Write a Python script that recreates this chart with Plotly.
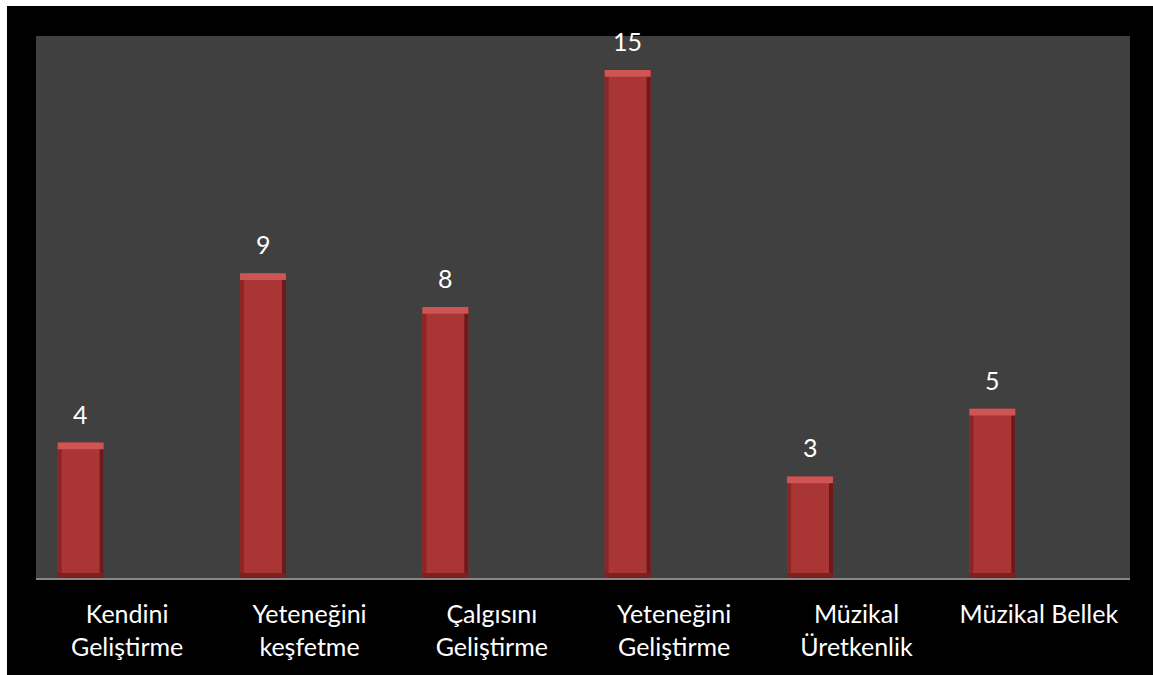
import plotly.graph_objects as go

categories = ["Kendini<br>Geliştirme", "Yeteneğini<br>keşfetme", "Çalgısını<br>Geliştirme",
              "Yeteneğini<br>Geliştirme", "Müzikal<br>Üretkenlik", "Müzikal Bellek"]
values = [4, 9, 8, 15, 3, 5]

BAR_OFFSET = -0.381
BAR_WIDTH = 0.252
EDGE = 0.022
CAP = 0.2

FONT = "Lato"

fig = go.Figure()

# bar body
fig.add_trace(go.Bar(x=categories, y=values, offset=BAR_OFFSET, width=BAR_WIDTH,
                     marker=dict(color="#aa3535", line=dict(width=0)), hoverinfo="skip"))
# left bevel
fig.add_trace(go.Bar(x=categories, y=values, offset=BAR_OFFSET, width=EDGE,
                     marker=dict(color="#8c2626", line=dict(width=0)), hoverinfo="skip"))
# right bevel
fig.add_trace(go.Bar(x=categories, y=values, offset=BAR_OFFSET + BAR_WIDTH - EDGE, width=EDGE,
                     marker=dict(color="#6e1a1a", line=dict(width=0)), hoverinfo="skip"))
# bottom bevel
fig.add_trace(go.Bar(x=categories, y=[0.15] * len(values), base=[0] * len(values),
                     offset=BAR_OFFSET, width=BAR_WIDTH,
                     marker=dict(color="#7e2020", line=dict(width=0)), hoverinfo="skip"))
# top bevel
fig.add_trace(go.Bar(x=categories, y=[CAP] * len(values), base=[v - CAP for v in values],
                     offset=BAR_OFFSET, width=BAR_WIDTH,
                     marker=dict(color="#cf5555", line=dict(width=0)), hoverinfo="skip"))

annotations = []
for c, v in zip(categories, values):
    annotations.append(dict(x=c, y=v, xref="x", yref="y", text=str(v), showarrow=False,
                            xanchor="center", yanchor="bottom", xshift=-46.5, yshift=12,
                            font=dict(family=FONT, size=25, color="#ffffff")))

shapes = [
    dict(type="rect", xref="paper", yref="paper", x0=-0.2, x1=1.2,
         ysizemode="pixel", yanchor=1, y0=30, y1=60,
         fillcolor="#ffffff", line=dict(width=0), layer="above"),
    dict(type="rect", xref="paper", yref="paper", y0=-0.5, y1=1.5,
         xsizemode="pixel", xanchor=0, x0=-60, x1=-29,
         fillcolor="#ffffff", line=dict(width=0), layer="above"),
]

fig.update_layout(
    width=1153, height=675,
    barmode="overlay",
    showlegend=False,
    paper_bgcolor="#000000",
    plot_bgcolor="#404040",
    margin=dict(l=36, r=23, t=36, b=97),
    annotations=annotations,
    shapes=shapes,
    xaxis=dict(type="category", showline=True, linecolor="#888888", linewidth=2,
               showgrid=False, zeroline=False, ticks="",
               tickfont=dict(family=FONT, size=25, color="#ffffff"),
               ticklabelstandoff=13),
    yaxis=dict(range=[0, 16], showticklabels=False, showgrid=False, zeroline=False,
               showline=False, ticks=""),
)

fig.write_html(
    "out.html",
    config={"displayModeBar": False},
    post_script=("document.documentElement.style.margin='0px';"
                 "document.documentElement.style.overflow='hidden';"
                 "document.body.style.margin='0px';"
                 "document.body.style.overflow='hidden';"
                 "document.body.style.background='#000000';"),
)
